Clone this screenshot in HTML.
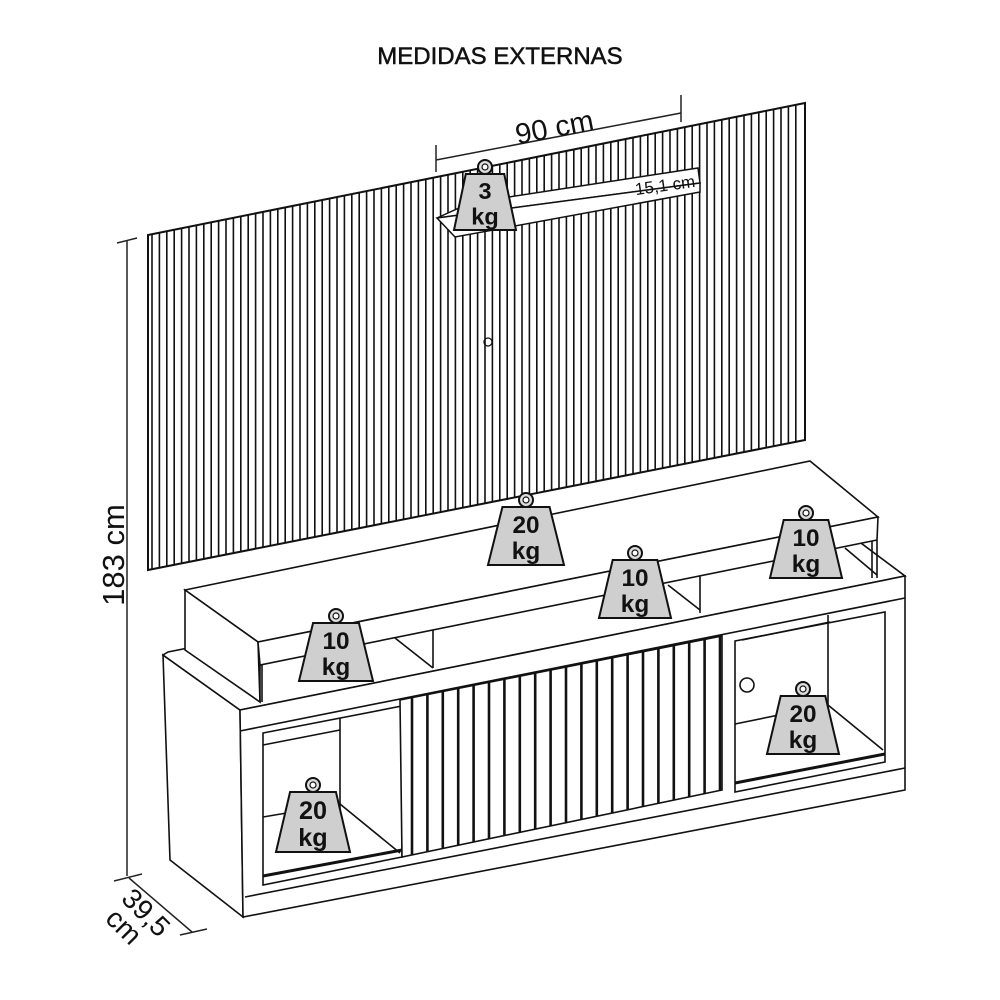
<!DOCTYPE html>
<html><head><meta charset="utf-8"><style>
html,body{margin:0;padding:0;background:#fff;}
svg{display:block;font-family:"Liberation Sans",sans-serif;}
</style></head><body>
<svg id="s" width="1000" height="1000" viewBox="0 0 1000 1000" xmlns="http://www.w3.org/2000/svg">
<rect width="1000" height="1000" fill="#fff"/>
<text x="500" y="64" text-anchor="middle" font-size="24" fill="#111" stroke="#111" stroke-width="0.5">MEDIDAS EXTERNAS</text>

<!-- wall panel -->
<g id="panel" stroke="#111" fill="none">
<polygon points="148,235 805,103 805,440 148,570" fill="#fff" stroke-width="2"/>
</g>

<!-- 90cm dimension -->
<g stroke="#222" stroke-width="1.5" fill="none">
<line x1="436" y1="160" x2="681" y2="113"/>
<line x1="436" y1="145" x2="436" y2="172"/>
<line x1="681" y1="95" x2="681" y2="122"/>
</g>
<text x="555" y="137" font-size="29" text-anchor="middle" transform="rotate(-11 555 130)" fill="#111">90 cm</text>

<!-- 183 cm -->
<g stroke="#222" stroke-width="1.5">
<line x1="127" y1="240" x2="127" y2="876"/>
<line x1="117" y1="243" x2="137" y2="238"/>
</g>
<text x="0" y="0" font-size="31" text-anchor="middle" transform="translate(124,555) rotate(-90)" fill="#111">183 cm</text>

<!-- 39,5 -->
<g stroke="#222" stroke-width="1.5">
<line x1="129" y1="878" x2="192" y2="932"/>
<line x1="114" y1="881" x2="142" y2="874"/>
<line x1="180" y1="935" x2="207" y2="929"/>
</g>
<text font-size="28" fill="#111" transform="translate(120,900) rotate(45)">39,5</text>
<text font-size="28" fill="#111" transform="translate(104,920) rotate(45)">cm</text>

<!-- lower cabinet -->
<g stroke="#111" stroke-width="1.6" fill="#fff">
<polygon points="163,655 240,710 243,917 170,860"/>
<polygon points="163,655 168,652 830,520 905,576 240,710"/>
<polygon points="240,710 905,576 905,790 243,917"/>
<line x1="240" y1="731" x2="905" y2="598"/>
<line x1="245" y1="897" x2="905" y2="768"/>
<polygon points="263,733 402,706 402,857 263,885" fill="#fff"/>
<line x1="263" y1="745" x2="340" y2="730"/>
<line x1="340" y1="718" x2="340" y2="817"/>
<line x1="263" y1="817" x2="340" y2="804"/>
<line x1="340" y1="804" x2="400" y2="853"/>
<line x1="263" y1="876" x2="402" y2="850" stroke-width="3"/>
<polygon points="735,641 885,612 885,762 735,792" fill="#fff"/>
<line x1="742" y1="640" x2="830" y2="622"/>
<line x1="828" y1="615" x2="828" y2="705"/>
<line x1="735" y1="724" x2="828" y2="705"/>
<line x1="828" y1="705" x2="883" y2="750"/>
<line x1="735" y1="783" x2="885" y2="754" stroke-width="3"/>
<circle cx="747" cy="685" r="7"/>
<polygon points="400,700 722,636 722,790 402,857"/>
</g>
<g id="doorslats" stroke="#111" stroke-width="2.6"></g>

<!-- upper tier -->
<g stroke="#111" stroke-width="1.6" fill="#fff">
<polygon points="185,590 810,461 878,517 258,642"/>
<polygon points="185,590 258,642 260,702 185,650"/>
<polygon points="258,642 878,517 877,540 260,665"/>
<line x1="260" y1="665" x2="260" y2="702"/>
<line x1="262" y1="665" x2="262" y2="702"/>
<line x1="872" y1="541" x2="872" y2="578"/>
<line x1="877" y1="540" x2="877" y2="578"/>
<line x1="433" y1="630" x2="433" y2="668"/>
<line x1="395" y1="638" x2="433" y2="668"/>
<line x1="700" y1="576" x2="700" y2="613"/>
<line x1="668" y1="585" x2="700" y2="610"/>
<line x1="845" y1="548" x2="877" y2="575"/>
</g>

<g id="shelf" stroke="#111" stroke-width="1.5" fill="#fff">
<polygon points="437,218 470,203 698,168 700,183"/>
<polygon points="437,218 700,183 700,192 455,237"/>
</g>
<text x="665" y="191" font-size="17" text-anchor="middle" transform="rotate(-8 665 185)" fill="#111">15,1 cm</text>
<circle cx="488" cy="342" r="4" fill="none" stroke="#111" stroke-width="1.3"/>

<g id="weights"></g>
</svg>
<script>
var ns="http://www.w3.org/2000/svg";
function el(t,a,p){var e=document.createElementNS(ns,t);for(var k in a)e.setAttribute(k,a[k]);(p||document.getElementById('s')).appendChild(e);return e;}
var panel=document.getElementById('panel');
for(var x=152;x<803;x+=7.4){
 var yt=235-(x-148)*132/657, yb=570-(x-148)*130/657;
 el('line',{x1:x,y1:yt,x2:x,y2:yb,'stroke-width':1.6},panel);
}
var ds=document.getElementById('doorslats');
for(var x=412;x<720;x+=15.4){
 var yt=700-(x-400)*64/322, yb=857-(x-400)*67/322;
 el('line',{x1:x,y1:yt,x2:x,y2:yb},ds);
}
var W=document.getElementById('weights');
function weight(cx,top,w,h,t1,t2){
 var g=el('g',{},W);
 el('circle',{cx:cx,cy:top+7,r:7,fill:'#ddd',stroke:'#111','stroke-width':2},g);
 el('circle',{cx:cx,cy:top+7,r:3,fill:'#fff',stroke:'#111','stroke-width':1.2},g);
 var y0=top+14, tw=w*0.62;
 el('polygon',{points:(cx-tw/2)+','+y0+' '+(cx+tw/2)+','+y0+' '+(cx+w/2)+','+(y0+h)+' '+(cx-w/2)+','+(y0+h),fill:'#cfcfcf',stroke:'#111','stroke-width':2},g);
 var fs=h*0.42;
 var a=el('text',{x:cx,y:y0+h*0.45,'font-size':fs,'font-weight':'bold','text-anchor':'middle',fill:'#111'},g);a.textContent=t1;
 var b=el('text',{x:cx,y:y0+h*0.9,'font-size':fs,'font-weight':'bold','text-anchor':'middle',fill:'#111'},g);b.textContent=t2;
}
weight(485,160,62,56,'3','kg');
weight(526,493,76,58,'20','kg');
weight(806,506,72,58,'10','kg');
weight(635,546,72,58,'10','kg');
weight(336,609,74,58,'10','kg');
weight(803,682,72,58,'20','kg');
weight(313,778,74,60,'20','kg');
</script>
</body></html>
